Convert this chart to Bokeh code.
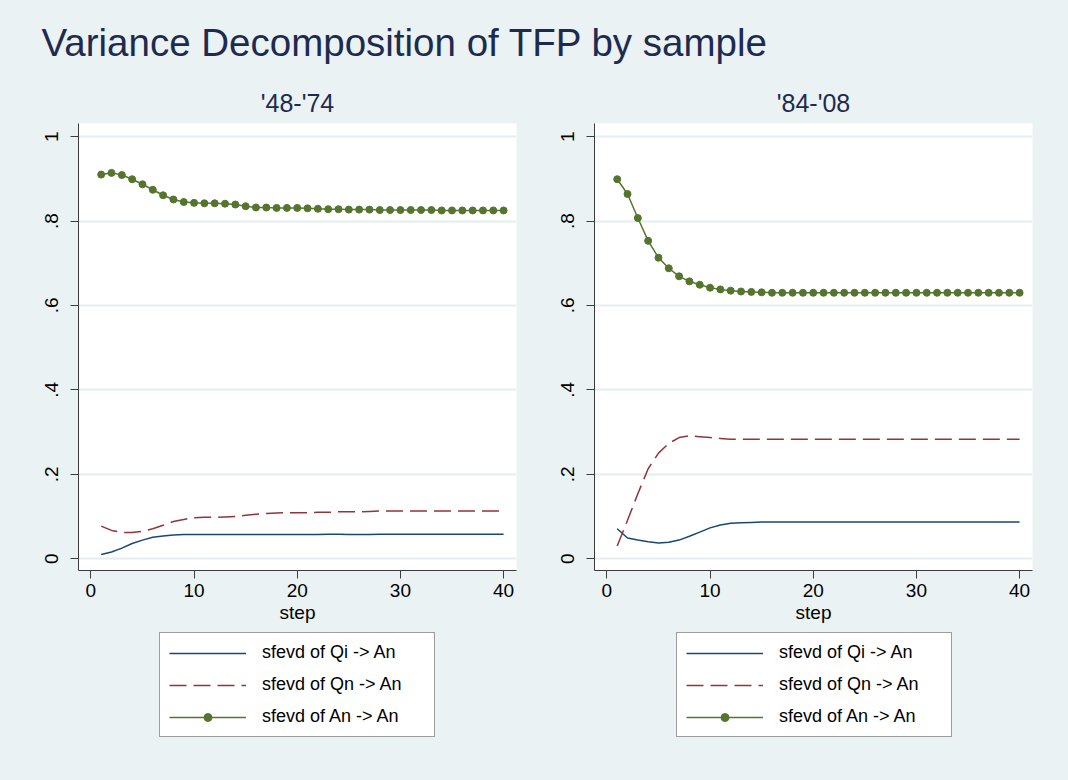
from bokeh.plotting import figure
from bokeh.models import Range1d, FixedTicker, Legend, LegendItem, Label
from bokeh.layouts import column, row
from bokeh.embed import file_html
from bokeh.resources import INLINE

# ---------------- data ----------------
steps = list(range(1, 41))

panel_titles = ["'48-'74", "'84-'08"]
series_labels = ["sfevd of Qi -> An", "sfevd of Qn -> An", "sfevd of An -> An"]

left_qi = [0.010, 0.016, 0.025, 0.036, 0.044, 0.051, 0.054, 0.056, 0.057, 0.057,
           0.057, 0.057, 0.057, 0.057, 0.057, 0.057, 0.057, 0.057, 0.057, 0.057,
           0.057, 0.057, 0.058, 0.058, 0.057, 0.057, 0.057, 0.058, 0.058, 0.058,
           0.058, 0.058, 0.058, 0.058, 0.058, 0.058, 0.058, 0.058, 0.058, 0.058]
left_qn = [0.077, 0.067, 0.062, 0.062, 0.065, 0.071, 0.079, 0.088, 0.093, 0.097,
           0.098, 0.098, 0.099, 0.100, 0.103, 0.105, 0.107, 0.108, 0.109, 0.109,
           0.109, 0.110, 0.110, 0.111, 0.111, 0.111, 0.112, 0.113, 0.113, 0.113,
           0.113, 0.113, 0.113, 0.113, 0.113, 0.113, 0.113, 0.113, 0.113, 0.113]
left_an = [0.910, 0.914, 0.909, 0.899, 0.887, 0.874, 0.861, 0.851, 0.845, 0.843,
           0.842, 0.842, 0.841, 0.839, 0.835, 0.832, 0.832, 0.831, 0.831, 0.831,
           0.830, 0.829, 0.828, 0.828, 0.827, 0.827, 0.827, 0.826, 0.826, 0.826,
           0.826, 0.826, 0.826, 0.825, 0.825, 0.825, 0.825, 0.825, 0.825, 0.825]

right_qi = [0.071, 0.049, 0.044, 0.040, 0.037, 0.039, 0.044, 0.053, 0.063, 0.073,
            0.080, 0.084, 0.085, 0.086, 0.087, 0.087, 0.087, 0.087, 0.087, 0.087,
            0.087, 0.087, 0.087, 0.087, 0.087, 0.087, 0.087, 0.087, 0.087, 0.087,
            0.087, 0.087, 0.087, 0.087, 0.087, 0.087, 0.087, 0.087, 0.087, 0.087]
right_qn = [0.030, 0.091, 0.154, 0.213, 0.250, 0.273, 0.287, 0.291, 0.289, 0.287,
            0.285, 0.283, 0.283, 0.283, 0.283, 0.283, 0.283, 0.283, 0.283, 0.283,
            0.283, 0.283, 0.283, 0.283, 0.283, 0.283, 0.283, 0.283, 0.283, 0.283,
            0.283, 0.283, 0.283, 0.283, 0.283, 0.283, 0.283, 0.283, 0.283, 0.283]
right_an = [0.899, 0.864, 0.807, 0.753, 0.713, 0.688, 0.669, 0.657, 0.649, 0.642,
            0.638, 0.635, 0.633, 0.632, 0.631, 0.630, 0.630, 0.630, 0.630, 0.630,
            0.630, 0.630, 0.630, 0.630, 0.630, 0.630, 0.630, 0.630, 0.630, 0.630,
            0.630, 0.630, 0.630, 0.630, 0.630, 0.630, 0.630, 0.630, 0.630, 0.630]

x_ticks = [0, 10, 20, 30, 40]
y_ticks = [0, 0.2, 0.4, 0.6, 0.8, 1]
y_tick_labels = ["0", ".2", ".4", ".6", ".8", "1"]

main_title = "Variance Decomposition of TFP by sample"
x_label = "step"

# ---------------- style ----------------
BG = "#eaf2f3"
GRID = "#e4eef0"
NAVY = "#1e2b4f"
BLUE = "#1a476f"
RED = "#90353b"
GREEN = "#55752f"
AXIS = "#3c3c3c"
FONT = "Liberation Sans"
DASH = "17 7"


def add_series(p, qi, qn, an):
    r1 = p.line(steps, qi, line_color=BLUE, line_width=1.5)
    r2 = p.line(steps, qn, line_color=RED, line_width=1.5, line_dash=DASH)
    r3 = p.line(steps, an, line_color=GREEN, line_width=1.5)
    r4 = p.scatter(steps, an, size=7, fill_color=GREEN, line_color=GREEN)
    return r1, r2, r3, r4


def make_panel(title, qi, qn, an, bl, br):
    p = figure(frame_width=438, frame_height=447,
               x_range=Range1d(-1.2, 41.25), y_range=Range1d(-0.028, 1.031),
               output_backend="svg", toolbar_location=None,
               min_border_left=bl, min_border_right=br,
               min_border_top=48, min_border_bottom=60, title=title)
    p.title.text_font = FONT
    p.title.text_font_size = "25px"
    p.title.text_font_style = "normal"
    p.title.text_color = NAVY
    p.title.align = "center"
    p.title.standoff = 14
    p.background_fill_color = "white"
    p.border_fill_color = BG
    p.outline_line_color = None
    p.styles = {"background-color": BG}

    p.xgrid.visible = False
    p.ygrid.grid_line_color = GRID
    p.ygrid.grid_line_width = 2

    p.xaxis.ticker = FixedTicker(ticks=x_ticks)
    p.yaxis.ticker = FixedTicker(ticks=y_ticks)
    p.yaxis.major_label_overrides = {t: s for t, s in zip(y_ticks, y_tick_labels)}
    p.yaxis.major_label_orientation = "vertical"
    for ax in (p.xaxis[0], p.yaxis[0]):
        ax.axis_line_color = AXIS
        ax.major_tick_line_color = AXIS
        ax.major_tick_out = 8
        ax.major_tick_in = 0
        ax.minor_tick_line_color = None
        ax.major_label_text_font = FONT
        ax.major_label_text_font_size = "19px"
        ax.major_label_text_color = "black"
    p.xaxis.major_label_standoff = 5
    p.yaxis.major_label_standoff = 12
    p.xaxis.axis_label = x_label
    p.xaxis.axis_label_text_font = FONT
    p.xaxis.axis_label_text_font_size = "19px"
    p.xaxis.axis_label_text_font_style = "normal"
    p.xaxis.axis_label_text_color = "black"
    p.xaxis.axis_label_standoff = 2

    add_series(p, qi, qn, an)
    return p


def make_legend_box(width, lx, qi, qn, an):
    # a strip below each panel holding its legend; its view range lies above the data,
    # so the series here serve only as legend keys
    lf = figure(width=width, height=150, output_backend="svg", toolbar_location=None,
                x_axis_type=None, y_axis_type=None, min_border=0,
                x_range=Range1d(-1.2, 41.25), y_range=Range1d(5, 6))
    lf.background_fill_color = BG
    lf.border_fill_color = BG
    lf.outline_line_color = None
    lf.grid.visible = False
    lf.styles = {"background-color": BG}
    k1, k2, k3, k4 = add_series(lf, qi, qn, an)
    legend = Legend(items=[LegendItem(label=series_labels[0], renderers=[k1]),
                           LegendItem(label=series_labels[1], renderers=[k2]),
                           LegendItem(label=series_labels[2], renderers=[k3, k4])],
                    location=(lx, 43), orientation="vertical")
    legend.border_line_color = AXIS
    legend.border_line_width = 1
    legend.background_fill_color = "white"
    legend.background_fill_alpha = 1
    legend.label_text_font = FONT
    legend.label_text_font_size = "18px"
    legend.label_text_color = "black"
    legend.glyph_width = 77
    legend.glyph_height = 20
    legend.label_height = 20
    legend.label_width = 163
    legend.label_standoff = 16
    legend.spacing = 11
    legend.padding = 9
    legend.margin = 0
    lf.add_layout(legend, "center")
    return lf


top = figure(width=1068, height=75, output_backend="svg", toolbar_location=None,
             x_axis_type=None, y_axis_type=None, min_border=0,
             x_range=Range1d(0, 1), y_range=Range1d(0, 1))
top.background_fill_color = BG
top.border_fill_color = BG
top.outline_line_color = None
top.grid.visible = False
top.styles = {"background-color": BG}
top.add_layout(Label(x=41, y=33, x_units="screen", y_units="screen", text=main_title,
                     text_font=FONT, text_font_size="38.5px", text_color=NAVY,
                     text_baseline="alphabetic"))

left = make_panel(panel_titles[0], left_qi, left_qn, left_an, 78, 30)
right = make_panel(panel_titles[1], right_qi, right_qn, right_an, 48, 36)
left_leg = make_legend_box(546, 81, left_qi, left_qn, left_an)
right_leg = make_legend_box(522, 82, right_qi, right_qn, right_an)

S = {"background-color": BG}
layout = column(top,
                row(column(left, left_leg, styles=S), column(right, right_leg, styles=S), styles=S),
                styles=S)
open("out.html", "w").write(file_html(layout, INLINE))
